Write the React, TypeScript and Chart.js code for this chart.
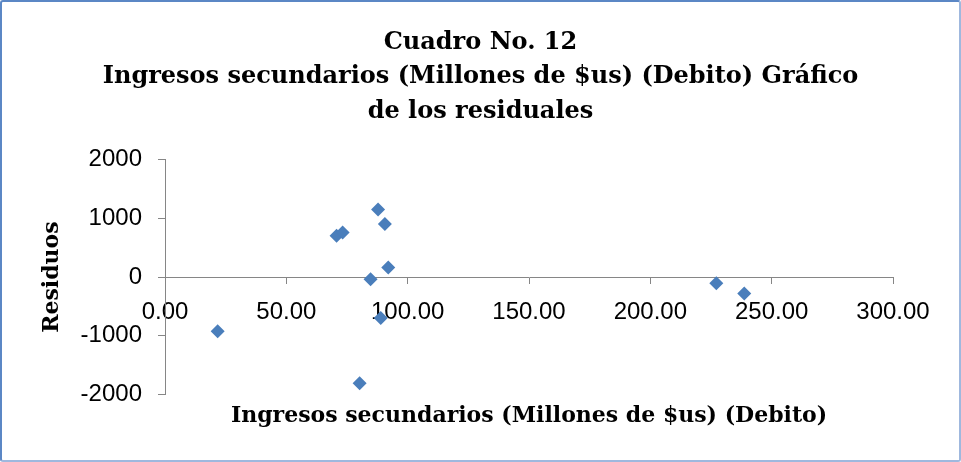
import React, { useEffect, useRef } from "react";
import { Chart, registerables } from "chart.js";

Chart.register(...registerables);

const titleLines = [
  "Cuadro No. 12",
  "Ingresos secundarios (Millones de $us) (Debito) Gráfico",
  "de los residuales",
];
const xAxisTitle = "Ingresos secundarios (Millones de $us) (Debito)";
const yAxisTitle = "Residuos";

// X: Ingresos secundarios (Debito); Y: residuos
const ingresos = [21.7, 70.7, 73.2, 87.8, 90.6, 92.0, 84.7, 88.9, 80.2, 227.2, 238.7];
const residuos = [-920, 706, 762, 1150, 906, 164, -34, -696, -1807, -103, -280];

const xMin = 0;
const xMax = 300;
const xStep = 50;
const yMin = -2000;
const yMax = 2000;
const yStep = 1000;

const serif = "'DejaVu Serif', serif";
const sans = "'Liberation Sans', Arial, sans-serif";

export default function App() {
  const ref = useRef<HTMLCanvasElement | null>(null);

  useEffect(() => {
    if (!ref.current) return;
    const points = ingresos.map((x, i) => ({ x, y: residuos[i] }));
    const chart = new Chart(ref.current, {
      type: "scatter",
      data: {
        datasets: [
          {
            label: "Residuos",
            data: points,
            pointStyle: "rectRot",
            pointRadius: 7,
            pointBackgroundColor: "#4a7ebb",
            pointBorderColor: "#4a7ebb",
            pointBorderWidth: 0,
          },
        ],
      },
      options: {
        animation: false,
        responsive: false,
        maintainAspectRatio: false,
        layout: { padding: 0 },
        plugins: {
          legend: { display: false },
          tooltip: { enabled: false },
          title: {
            display: true,
            text: titleLines,
            color: "#000",
            font: { family: serif, size: 24, weight: "bold", lineHeight: 1.44 },
            padding: { top: 23, bottom: 31 },
          },
          subtitle: {
            display: true,
            position: "bottom",
            fullSize: false,
            text: xAxisTitle,
            color: "#000",
            font: { family: serif, size: 22, weight: "bold", lineHeight: 1.2 },
            padding: { top: 8, bottom: 31 },
          },
        },
        scales: {
          x: {
            type: "linear",
            min: xMin,
            max: xMax,
            position: { y: 0 },
            afterFit: (scale: any) => {
              scale.paddingRight = 66;
            },
            ticks: {
              stepSize: xStep,
              padding: 15,
              color: "#000",
              font: { family: sans, size: 24 },
              maxRotation: 0,
              callback: (v: any) => Number(v).toFixed(2),
            },
            grid: {
              drawOnChartArea: false,
              drawTicks: true,
              tickLength: 6,
              color: "#868686",
            },
            border: { display: true, color: "#868686", width: 1 },
          },
          y: {
            type: "linear",
            min: yMin,
            max: yMax,
            position: "left",
            afterFit: (scale: any) => {
              scale.width = 163;
            },
            ticks: {
              stepSize: yStep,
              padding: 16,
              color: "#000",
              font: { family: sans, size: 24 },
              callback: (v: any) => String(v),
            },
            grid: {
              drawOnChartArea: false,
              drawTicks: true,
              tickLength: 7,
              color: "#868686",
            },
            border: { display: true, color: "#868686", width: 1 },
            title: {
              display: true,
              text: yAxisTitle,
              color: "#000",
              font: { family: serif, size: 22, weight: "bold", lineHeight: 1.2 },
              padding: { top: 37, bottom: 0 },
            },
          },
        },
      },
    });
    return () => chart.destroy();
  }, []);

  return (
    <div
      style={{
        position: "absolute",
        left: 0,
        top: 0,
        width: 961,
        height: 462,
        boxSizing: "border-box",
        borderStyle: "solid",
        borderWidth: 2,
        borderTopColor: "#5b87c5",
        borderLeftColor: "#5b87c5",
        borderRightColor: "#9fb8de",
        borderBottomColor: "#9fb8de",
        borderRadius: 3,
        background: "#fff",
        overflow: "hidden",
      }}
    >
      <canvas ref={ref} width={957} height={458} style={{ display: "block" }} />
    </div>
  );
}
